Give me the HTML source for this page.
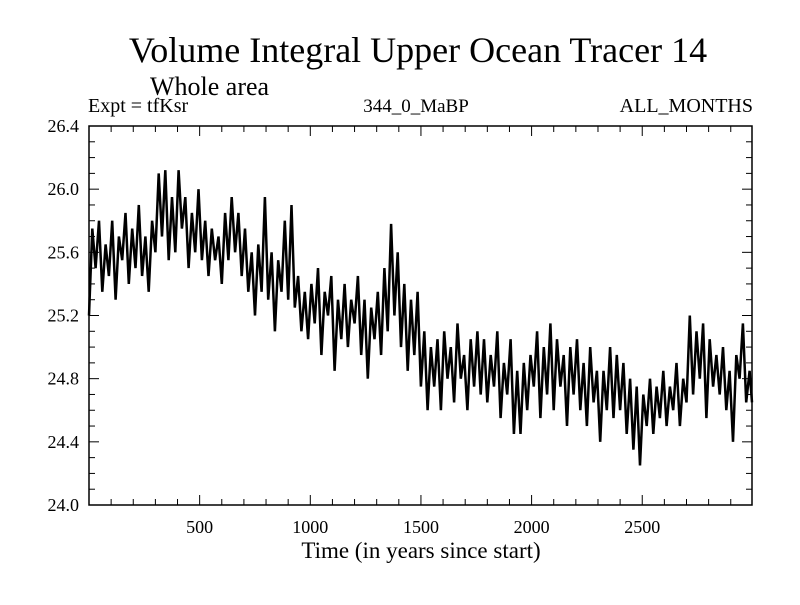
<!DOCTYPE html>
<html><head><meta charset="utf-8"><style>
html,body{margin:0;padding:0;background:#fff;}
svg text{font-family:"Liberation Serif",serif;fill:#000;}
</style></head><body>
<svg id="chart" width="800" height="600" xmlns="http://www.w3.org/2000/svg">
<rect width="800" height="600" fill="#fff"/>
<text x="418" y="62" font-size="36" text-anchor="middle">Volume Integral Upper Ocean Tracer 14</text>
<text x="150" y="95" font-size="26">Whole area</text>
<text x="88" y="112" font-size="20">Expt = tfKsr</text>
<text x="416" y="112" font-size="19" text-anchor="middle">344_0_MaBP</text>
<text x="753" y="112" font-size="20" text-anchor="end">ALL_MONTHS</text>
<text x="421" y="558" font-size="23" text-anchor="middle">Time (in years since start)</text>
<g id="axes"></g>
<g id="series"></g>
<rect x="89" y="126" width="663" height="379" fill="none" stroke="#000" stroke-width="1.5"/>
</svg>
<script>
const yTicks=[24.0,24.4,24.8,25.2,25.6,26.0,26.4];
const yTickLabels=["24.0","24.4","24.8","25.2","25.6","26.0","26.4"];
const xTicks=[500,1000,1500,2000,2500];
const xTickLabels=["500","1000","1500","2000","2500"];
const startYear=0, stepYears=15;
const values=[
25.2,25.75,25.5,25.8,25.35,25.65,25.45,25.8,25.3,25.7,25.55,25.85,25.4,25.75,25.5,25.9,25.45,25.7,25.35,25.8,
25.6,26.1,25.7,26.12,25.55,25.95,25.6,26.12,25.75,25.95,25.5,25.85,25.6,26.0,25.55,25.8,25.45,25.75,25.55,25.7,
25.4,25.85,25.55,25.95,25.6,25.85,25.45,25.75,25.35,25.6,25.2,25.65,25.35,25.95,25.3,25.6,25.1,25.55,25.35,25.8,
25.3,25.9,25.25,25.45,25.1,25.35,25.05,25.4,25.15,25.5,24.95,25.35,25.2,25.45,24.85,25.3,25.05,25.4,25.0,25.3,
25.15,25.45,24.95,25.3,24.8,25.25,25.05,25.35,24.95,25.5,25.1,25.78,25.2,25.6,25.0,25.4,24.85,25.3,24.95,25.35,
24.75,25.1,24.6,25.0,24.75,25.05,24.6,25.1,24.8,25.0,24.65,25.15,24.8,24.95,24.6,25.05,24.75,25.1,24.7,25.05,
24.65,24.95,24.75,25.1,24.55,24.9,24.7,25.05,24.45,24.85,24.45,24.9,24.6,24.95,24.75,25.1,24.55,25.0,24.7,25.15,
24.6,25.05,24.75,24.95,24.5,25.0,24.7,25.05,24.6,24.9,24.5,25.0,24.65,24.85,24.4,24.85,24.6,25.0,24.55,24.95,
24.6,24.9,24.45,24.8,24.35,24.75,24.25,24.7,24.5,24.8,24.45,24.75,24.55,24.85,24.5,24.75,24.6,24.9,24.5,24.8,
24.65,25.2,24.7,25.1,24.8,25.15,24.55,25.05,24.75,24.95,24.7,25.0,24.6,24.85,24.4,24.95,24.8,25.15,24.65,24.85,24.65];

const X0=89,X1=752,Y0=505,Y1=126,xMin=0,xMax=2996,yMin=24.0,yMax=26.4;
const xs=v=>X0+(v-xMin)/(xMax-xMin)*(X1-X0);
const ys=v=>Y0-(v-yMin)/(yMax-yMin)*(Y0-Y1);
const NS="http://www.w3.org/2000/svg";
const axes=document.getElementById('axes');
function ln(x1,y1,x2,y2,name){const l=document.createElementNS(NS,'line');
l.setAttribute('x1',x1);l.setAttribute('y1',y1);l.setAttribute('x2',x2);l.setAttribute('y2',y2);
l.setAttribute('stroke','#000');l.setAttribute('stroke-width','1');


axes.appendChild(l);}
function tx(x,y,s,anchor,name){const t=document.createElementNS(NS,'text');
t.setAttribute('x',x);t.setAttribute('y',y);t.setAttribute('font-size','18');t.setAttribute('text-anchor',anchor);t.textContent=s;


axes.appendChild(t);}
for(let k=0;k<=24;k++){const v=yMin+k*0.1;const y=ys(v);
const L=(k%4===0)?10:6;ln(X0,y,X0+L,y,'y-tick');ln(X1,y,X1-L,y,'y-tick-right');}
yTicks.forEach((v,i)=>tx(X0-10,ys(v)+6,yTickLabels[i],'end','y-tick-label'));
for(let v=100;v<xMax;v+=100){const x=xs(v);const L=(v%500===0)?10:6;ln(x,Y0,x,Y0-L,'x-tick');ln(x,Y1,x,Y1+L,'x-tick-top');}
xTicks.forEach((v,i)=>tx(xs(v),Y0+28,xTickLabels[i],'middle','x-tick-label'));
const pts=values.map((v,i)=>xs(Math.min(startYear+i*stepYears,xMax)).toFixed(1)+','+ys(v).toFixed(1)).join(' ');
const pl=document.createElementNS(NS,'polyline');
pl.setAttribute('points',pts);pl.setAttribute('fill','none');pl.setAttribute('stroke','#000');pl.setAttribute('stroke-width','2.5');


document.getElementById('series').appendChild(pl);
</script>
</body></html>
